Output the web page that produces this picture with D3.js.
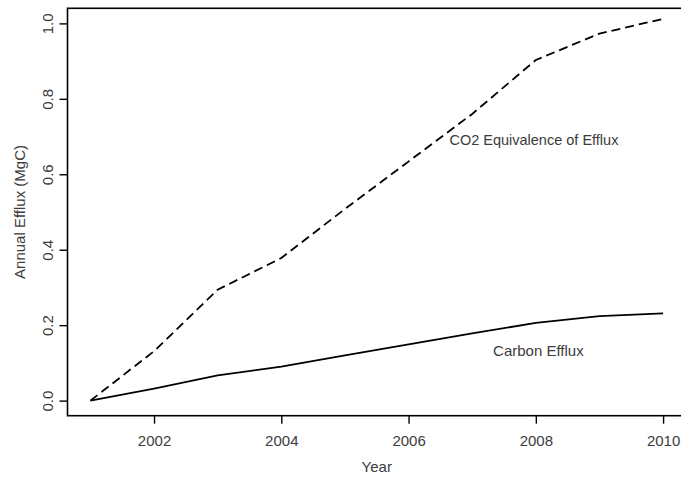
<!DOCTYPE html>
<html>
<head>
<meta charset="utf-8">
<script src="https://cdn.jsdelivr.net/npm/d3@7"></script>
<style>
  html, body { margin: 0; padding: 0; background: #fff; }
  svg { display: block; }
  text { font-family: "Liberation Sans", Arial, sans-serif; fill: #3c3c3c; }
</style>
</head>
<body>
<svg id="chart" width="681" height="478"></svg>
<script>
const years = [2001, 2002, 2003, 2004, 2005, 2006, 2007, 2008, 2009, 2010];
const co2Equivalence = [0, 0.131, 0.294, 0.378, 0.508, 0.634, 0.760, 0.903, 0.973, 1.012];
const carbonEfflux = [0, 0.032, 0.067, 0.090, 0.120, 0.149, 0.178, 0.206, 0.224, 0.231];
const xTicks = [2002, 2004, 2006, 2008, 2010];
const yTicks = [0, 0.2, 0.4, 0.6, 0.8, 1.0];
const seriesLabels = [
  { text: "CO2 Equivalence of Efflux", year: 2007.97, value: 0.692, size: 14.5 },
  { text: "Carbon Efflux", year: 2008.04, value: 0.133, size: 15 }
];

const svg = d3.select("#chart");
const plotLeft = 67.5, plotRight = 686, plotTop = 8.3, plotBottom = 415.7;

const x = d3.scaleLinear().domain([2001 - 0.36, 2010 + 0.36]).range([plotLeft, plotRight]);
const y = d3.scaleLinear().domain([-0.04, 1.04]).range([plotBottom, plotTop]);

// Box
svg.append("rect")
  .attr("x", plotLeft).attr("y", plotTop)
  .attr("width", plotRight - plotLeft).attr("height", plotBottom - plotTop)
  .attr("fill", "none").attr("stroke", "#000").attr("stroke-width", 1.6);

// X axis
const xAxis = svg.append("g")
  .attr("transform", `translate(0,${plotBottom})`)
  .call(d3.axisBottom(x).tickValues(xTicks).tickFormat(d3.format("d")).tickSize(8).tickSizeOuter(0).tickPadding(12));
xAxis.select(".domain").remove();
xAxis.selectAll(".tick line").attr("stroke", "#000").attr("stroke-width", 1.4);
xAxis.selectAll(".tick text").attr("font-size", 15).attr("fill", "#3c3c3c")
  .style("font-family", "'Liberation Sans', Arial, sans-serif");

// Y axis
const yAxis = svg.append("g")
  .attr("transform", `translate(${plotLeft},0)`)
  .call(d3.axisLeft(y).tickValues(yTicks).tickFormat(d3.format(".1f")).tickSize(8).tickSizeOuter(0));
yAxis.select(".domain").remove();
yAxis.selectAll(".tick line").attr("stroke", "#000").attr("stroke-width", 1.4);
yAxis.selectAll(".tick text")
  .attr("font-size", 15).attr("fill", "#3c3c3c")
  .style("font-family", "'Liberation Sans', Arial, sans-serif")
  .attr("x", null)
  .attr("text-anchor", "middle")
  .attr("transform", "translate(-20,0) rotate(-90)")
  .attr("dy", "0.35em");

// Lines
const lineGen = vals => d3.line().x((d, i) => x(years[i])).y(d => y(d))(vals);

svg.append("path")
  .attr("d", lineGen(co2Equivalence))
  .attr("fill", "none").attr("stroke", "#000").attr("stroke-width", 1.8)
  .attr("stroke-dasharray", "9,5");

svg.append("path")
  .attr("d", lineGen(carbonEfflux))
  .attr("fill", "none").attr("stroke", "#000").attr("stroke-width", 1.8);

// Series labels
svg.selectAll(".series-label").data(seriesLabels).enter().append("text")
  .attr("class", "series-label")
  .attr("x", d => x(d.year)).attr("y", d => y(d.value))
  .attr("dy", "0.35em")
  .attr("text-anchor", "middle")
  .attr("font-size", d => d.size)
  .text(d => d.text);

// Axis titles
svg.append("text")
  .attr("x", (plotLeft + plotRight) / 2).attr("y", 467)
  .attr("dy", "0.35em").attr("text-anchor", "middle")
  .attr("font-size", 15).text("Year");

svg.append("text")
  .attr("transform", `translate(20,${(plotTop + plotBottom) / 2}) rotate(-90)`)
  .attr("dy", "0.35em").attr("text-anchor", "middle")
  .attr("font-size", 15).text("Annual Efflux (MgC)");
</script>
</body>
</html>
